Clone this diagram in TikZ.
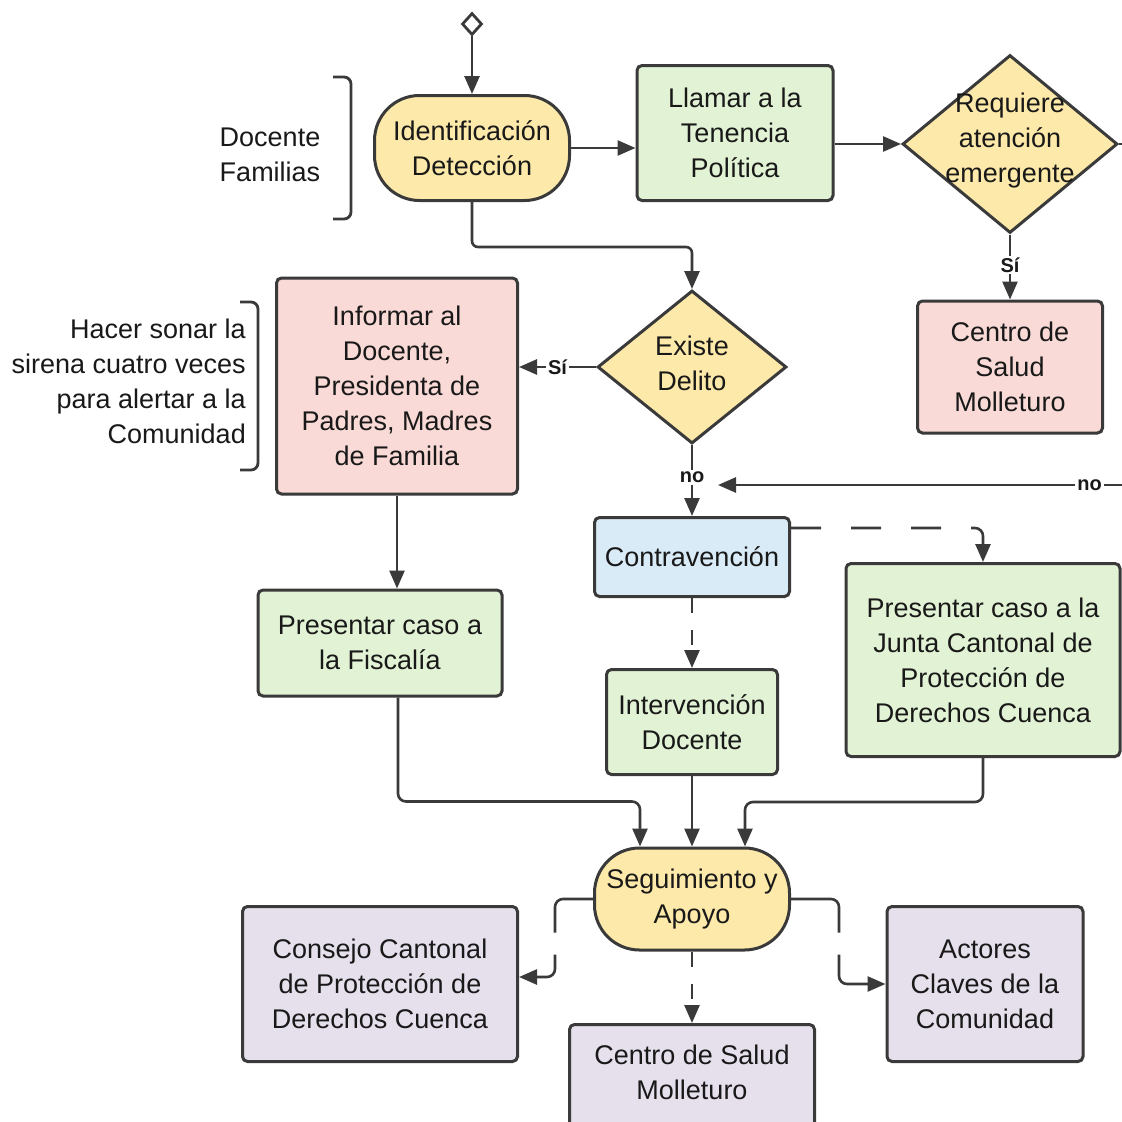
\documentclass[tikz,border=0pt]{standalone}
\usepackage{fontspec}
\setmainfont{Liberation Sans}
\usetikzlibrary{shapes.geometric,arrows.meta,calc}
\definecolor{lineclr}{HTML}{3A3A3A}
\definecolor{fyel}{HTML}{FDE9A9}
\definecolor{fgrn}{HTML}{E2F3D5}
\definecolor{fpnk}{HTML}{F9DAD6}
\definecolor{fblu}{HTML}{D9EBF7}
\definecolor{fpur}{HTML}{E6DFEC}
\begin{document}
\begin{tikzpicture}[x=1pt,y=-1pt,
  mainfont/.style={font=\fontsize{27}{35}\selectfont},
  box/.style={draw=lineclr, line width=3pt, rounded corners=5pt, align=center, inner sep=0pt, mainfont, text=black!90},
  stadium/.style={box, rounded corners=45pt},
  dia/.style={draw=lineclr, line width=3pt, diamond, inner sep=0pt, fill=fyel},
  txt/.style={align=center, inner sep=0pt, mainfont, text=black!90},
  lbl/.style={font=\bfseries\fontsize{20}{24}\selectfont, fill=white, inner sep=2pt, text=black!90},
  arr/.style={-{Triangle[length=18pt,width=15pt]}, line width=2.6pt, draw=lineclr},
  conn/.style={line width=2.6pt, draw=lineclr},
  brk/.style={line width=2.8pt, draw=lineclr, rounded corners=7pt},
  dlong/.style={dash pattern=on 30pt off 30pt},
  dshort/.style={dash pattern=on 15pt off 17pt}
]
\clip (0,0) rectangle (1122,1122);
\fill[white] (0,0) rectangle (1122,1122);

% nodes
\node[draw=lineclr, line width=2.8pt, diamond, fill=white, minimum width=20pt, minimum height=22pt, inner sep=0pt] (start) at (472,24) {};
\node[stadium, fill=fyel, minimum width=195pt, minimum height=105pt] (idn) at (472,148) {Identificación\\Detección};
\node[box, fill=fgrn, minimum width=196pt, minimum height=135pt] (lla) at (735,133) {Llamar a la\\Tenencia\\Política};
\node[dia, minimum width=215pt, minimum height=178pt] (req) at (1010,144) {};
\node[txt] (reqt) at (1010,141) {Requiere\\atención\\emergente};
\node[box, fill=fpnk, minimum width=185pt, minimum height=132pt] (csa) at (1010,367) {Centro de\\Salud\\Molleturo};
\node[dia, minimum width=189pt, minimum height=153pt] (exi) at (692,367) {};
\node[txt] (exit) at (692,363) {Existe\\Delito};
\node[box, fill=fpnk, minimum width=241pt, minimum height=216pt] (inf) at (397,386) {Informar al\\Docente,\\Presidenta de\\Padres, Madres\\de Familia};
\node[box, fill=fblu, minimum width=195pt, minimum height=79pt] (con) at (692,557) {Contravención};
\node[box, fill=fgrn, minimum width=244pt, minimum height=106pt] (fis) at (380,643) {Presentar caso a\\la Fiscalía};
\node[box, fill=fgrn, minimum width=274pt, minimum height=193pt] (jun) at (983,660) {Presentar caso a la\\Junta Cantonal de\\Protección de\\Derechos Cuenca};
\node[box, fill=fgrn, minimum width=171pt, minimum height=105pt] (int) at (692,722) {Intervención\\Docente};
\node[stadium, fill=fyel, minimum width=195pt, minimum height=102pt] (seg) at (692,899) {Seguimiento y\\Apoyo};
\node[box, fill=fpur, minimum width=275pt, minimum height=155pt] (cons) at (380,984) {Consejo Cantonal\\de Protección de\\Derechos Cuenca};
\node[box, fill=fpur, minimum width=245pt, minimum height=130pt, anchor=north] (cs2) at (692,1023) {};
\node[txt] (cs2t) at (692,1072) {Centro de Salud\\Molleturo};
\node[box, fill=fpur, minimum width=196pt, minimum height=155pt] (act) at (985,984) {Actores\\Claves de la\\Comunidad};

% side notes
\node[txt] (doc) at (270,155) {Docente\\Familias};
\node[txt, align=right, anchor=east] (hac) at (246,381) {Hacer sonar la\\sirena cuatro veces\\para alertar a la\\Comunidad};
\draw[brk] (333,77) -- (351,77) -- (351,219) -- (333,219);
\draw[brk] (240,302) -- (258,302) -- (258,470) -- (240,470);

% helper coordinates
\coordinate (reqR) at (1122,144);
\coordinate (noR) at (1122,485);
\coordinate (noL) at (718,485);
\coordinate (segL) at ($(seg.north)+(-52,0)$);
\coordinate (segR) at ($(seg.north)+(53,0)$);

% connectors
\draw[arr] (start.south) -- (idn.north);
\draw[arr] (idn.east) -- (idn.east -| lla.west);
\draw[arr] (req.west -| lla.east) -- (req.west);
\draw[arr] (req.south) -- node[lbl, pos=0.47] {Sí} (csa.north);
\draw[conn] (req.east) -- (reqR);
\draw[arr] (noR) -- node[lbl, pos=0.08] {no} (noL);
\draw[arr, rounded corners=6pt] (idn.south) -- ++(0,45) -| (exi.north);
\draw[arr] (exi.west) -- node[lbl, pos=0.5] {Sí} (exi.west -| inf.east);
\draw[arr] (exi.south) -- node[lbl, pos=0.46] {no} (con.north);
\draw[arr] (inf.south) -- (inf.south |- fis.north);
\draw[arr, dlong, rounded corners=8pt] ($(con.north east)+(0,12)$) -| (jun.north);
\draw[arr, dshort] (con.south) -- (int.north);
\draw[arr, rounded corners=8pt] ($(fis.south)+(18,0)$) -- ++(0,104) -| (segL);
\draw[arr] (int.south) -- (seg.north);
\draw[arr, rounded corners=8pt] (jun.south) -- ++(0,44) -| (segR);
\draw[arr, dash pattern=on 68pt off 22pt, rounded corners=8pt] (seg.west) -- ++(-38,0) |- ($(cons.east)+(0,-7)$);
\draw[arr, dash pattern=on 78pt off 22pt, rounded corners=8pt] (seg.east) -- ++(48,0) |- (act.west);
\draw[arr, dshort] (seg.south) -- (cs2.north);
\end{tikzpicture}
\end{document}
